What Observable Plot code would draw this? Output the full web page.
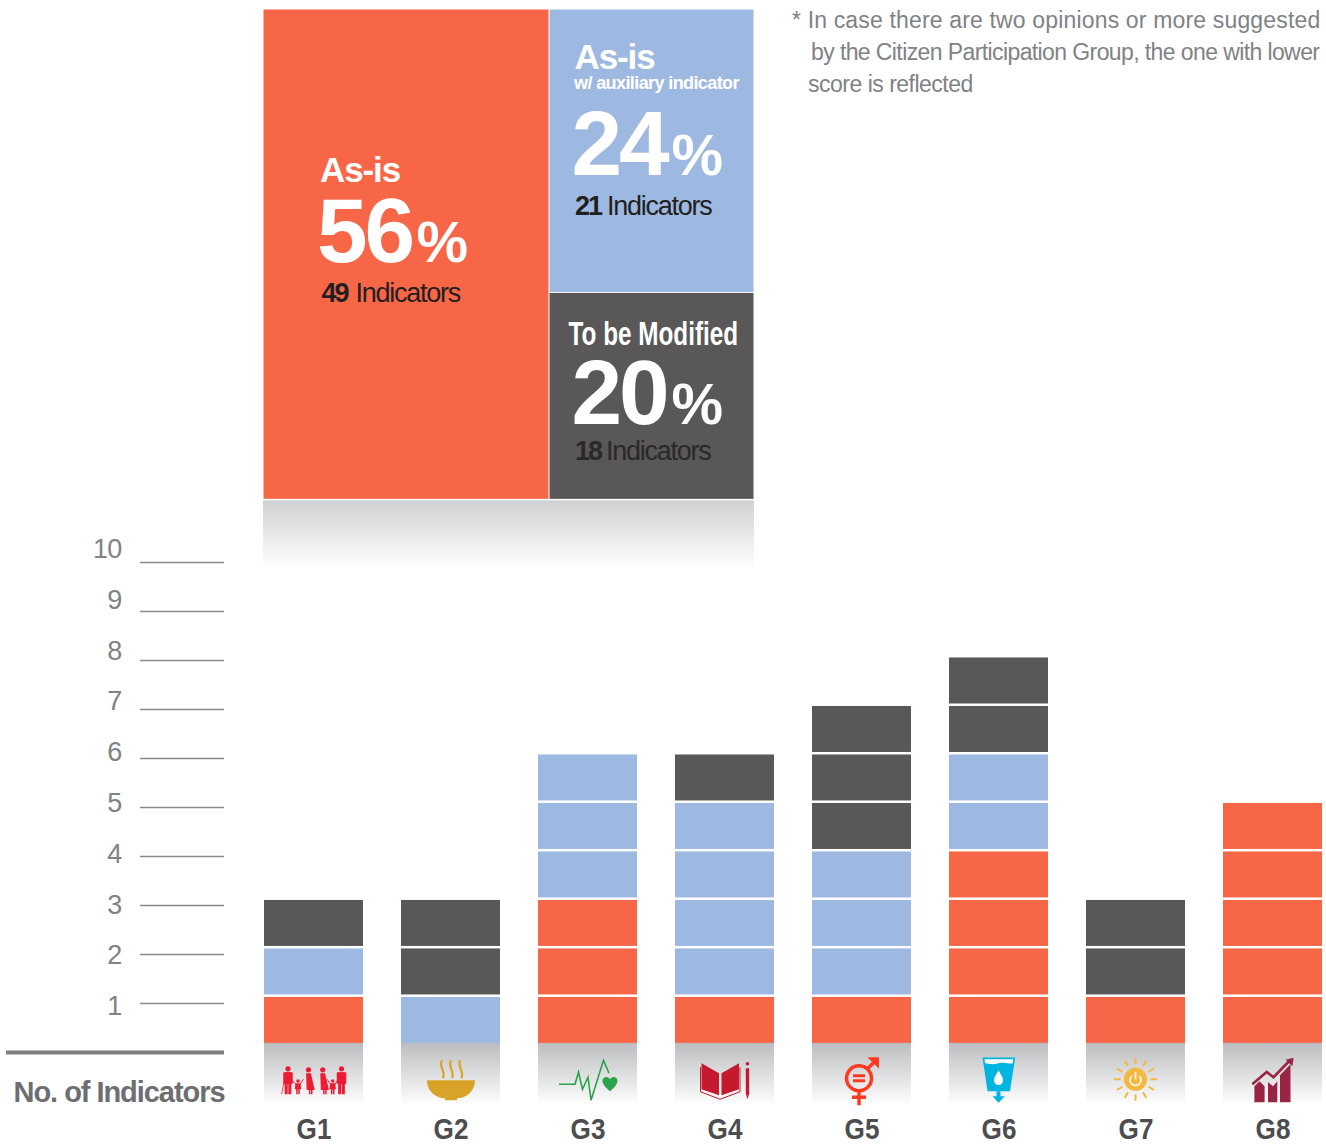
<!DOCTYPE html>
<html><head><meta charset="utf-8">
<style>
html,body{margin:0;padding:0;background:#fff}
#page{position:relative;width:1326px;height:1144px;overflow:hidden;font-family:"Liberation Sans",Arial,sans-serif}
#page svg{position:absolute;left:0;top:0;background:transparent;overflow:visible}
.note{position:absolute;white-space:pre;font-size:23px;color:#808285;line-height:28px}
.ls-name{letter-spacing:-1.1px}
.ls-sub{letter-spacing:-.6px}
.ls-pct{letter-spacing:-3px}
.ls-num{letter-spacing:-2px}
.ls-ind{letter-spacing:-1.25px}
.ls-tick text,.ls-tick{letter-spacing:-.8px}
.ls-axis{letter-spacing:-1.05px}
</style>
<script src="https://cdn.jsdelivr.net/npm/d3@7"></script>
<script src="https://cdn.jsdelivr.net/npm/@observablehq/plot@0.6"></script>
</head><body><div id="page"></div>
<script>
// ---- data ----
const goals = ["G1","G2","G3","G4","G5","G6","G7","G8"];
const asIs  = [1,0,3,1,1,4,1,5];
const aux   = [1,1,3,4,3,2,0,0];
const mod   = [1,2,0,1,3,2,2,0];
const statuses = ["As-is","As-is w/ auxiliary indicator","To be Modified"];
const statusColors = ["#f76647","#9eb9e1","#595758"];
const tileNames = ["As-is","As-is","To be Modified"];
const tilePercents = [56,24,20];
const tileCounts = [49,21,18];
const tileColumnShare = 58.25;   // share of treemap width
const tileRowShare = 57.8;       // share of treemap height of the right column
const axisTicks = [1,2,3,4,5,6,7,8,9,10];
const noteLines = ["* In case there are two opinions or more suggested","by the Citizen Participation Group, the one with lower","score is reflected"];

// ---- helpers ----
const FONT = '"Liberation Sans",Arial,sans-serif';
const page = document.getElementById("page");
const gradient = (id, from) => () => {
  const d = d3.create("svg:defs");
  const g = d.append("linearGradient").attr("id", id).attr("x1",0).attr("y1",0).attr("x2",0).attr("y2",1);
  g.append("stop").attr("offset","0%").attr("stop-color",from);
  g.append("stop").attr("offset","100%").attr("stop-color","#fff");
  return d.node();
};
// the reference's condensed bold lettering: squeeze text horizontally about its anchor
const condense = (svg, cls, k) => d3.select(svg).selectAll(`.${cls} text`).each(function() {
  const t = this.getAttribute("transform") || "";
  this.setAttribute("transform", `${t} scale(${k} 1)`);
});

// ---- icons (drawn in an 80×50 box centred on each band) ----
const wrap = s => "data:image/svg+xml," + encodeURIComponent(`<svg xmlns="http://www.w3.org/2000/svg" viewBox="0 0 80 50" width="80" height="50">${s}</svg>`);
const man = (c,t,b,w) => `<circle cx="${c}" cy="${t+2.6}" r="2.6"/><rect x="${c-w/2}" y="${t+6}" width="${w}" height="${(b-t)*.42}" rx="1"/><rect x="${c-w/2+1.4}" y="${t+6}" width="${(w-3.4)/2}" height="${b-t-6}"/><rect x="${c+.3}" y="${t+6}" width="${(w-3.4)/2}" height="${b-t-6}"/>`;
const kid = (c,t,b) => `<circle cx="${c}" cy="${t+1.8}" r="1.8"/><path d="M${c-2.6} ${t+4}h5.200l.6 ${(b-t-4)*.55}h-1.400v${(b-t-4)*.45}h-1.500v${-(b-t-4)*.4}h-.6v${(b-t-4)*.4}h-1.500v${-(b-t-4)*.45}h-1.400z"/>`;
const wom = (c,t,b,w) => `<circle cx="${c}" cy="${t+2.6}" r="2.6"/><path d="M${c-2.4} ${t+6}h4.800l${w/2-2.4} ${(b-t)*.62}h-${w/2-4}v${b-t-6-(b-t)*.62}h-1.500v${-(b-t-6-(b-t)*.62)}h-.6v${b-t-6-(b-t)*.62}h-1.500v${-(b-t-6-(b-t)*.62)}h-${w/2-4}z"/>`;
const ray = a => { const r=a*Math.PI/180; return `<line x1="${39.5+15*Math.cos(r)}" y1="${23+15*Math.sin(r)}" x2="${39.5+21.5*Math.cos(r)}" y2="${23+21.5*Math.sin(r)}"/>`; };
const icons = [
 `<g fill="#ed1b34">${man(14,10,38,9.5)}${kid(24,23,38)}${wom(34.5,11,38,12.5)}${wom(48.7,11,38,12.5)}${kid(58.7,23,38)}${man(67.5,10,38,9.5)}<path fill="none" stroke="#ed1b34" stroke-width="1" d="M18 24L22 28M26 28L29.500 23M53 23L56.500 28M61 28L63.500 24"/><path fill="none" stroke="#ed1b34" stroke-width=".8" d="M10 26L7.500 38"/></g>`,
 `<path fill="#d9a327" d="M16 24H64C64 36 54 42 46 42V44H34V42C26 42 16 36 16 24Z"/><g fill="none" stroke="#d9a327" stroke-width="2.2"><path d="M31 4C27 10 35 14 32 22"/><path d="M40 4C36 10 44 14 41 22"/><path d="M49.500 4C45.500 10 53.500 14 50.500 22"/></g>`,
 `<path fill="none" stroke="#2aa34a" stroke-width="1.6" d="M11 28H27L30.500 16L34.500 33L40 21L43 44L55.500 4L61 17"/><path fill="#2aa34a" d="M62 35C56 30 54.500 27 54.500 24.500C54.500 21 59.500 19 62 23C64.500 19 69.500 21 69.500 24.500C69.500 27 68 30 62 35Z"/>`,
 `<g fill="#c5192d"><path d="M16.500 7L34 17V39L16.500 33Z"/><path d="M54 7L36.500 17V39L54 33Z"/><path fill="none" stroke="#c5192d" stroke-width="1" d="M15.500 11V35.500L35 43L55 35.500V11"/><circle cx="62.500" cy="7.500" r="1.800"/><path d="M60.800 12H64.200V37L62.500 43L60.800 37Z"/></g>`,
 `<g stroke="#ff3a21" fill="none"><circle cx="37" cy="22" r="12.500" stroke-width="3.500"/><path stroke-width="3.400" d="M37 35V49M30 41H44"/><path stroke-width="3" d="M31 19.500H43M31 24.500H43"/><path stroke-width="3.600" d="M46 12L54 4"/></g><path fill="#ff3a21" d="M45.400 1H57V12.500Z"/>`,
 `<path fill="#00b5e2" d="M23.500 1.300H56.200L51 35H28.500Z"/><path fill="#fff" d="M25.500 3H54.200L53.700 7C48 8 44 5.500 39.500 7C35 8.500 30 8 26 6.800Z"/><path fill="#fff" d="M39.500 14C37.500 18 35 20.500 35 24C35 26.800 37 28.800 39.500 28.800C42 28.800 44 26.800 44 24C44 20.500 41.500 18 39.500 14Z"/><path fill="#00b5e2" d="M37.500 35H41.500V40H45.800L39.500 46.500L33.500 40H37.500Z"/>`,
 `<g stroke="#f5b83d" stroke-width="2">${[0,30,60,90,120,150,180,210,240,270,300,330].map(ray).join("")}</g><circle cx="39.500" cy="23" r="11.500" fill="#f5b83d"/><path fill="none" stroke="#fff" stroke-width="1.600" d="M36 19.500A5.500 5.500 0 1 0 43 19.500M39.500 15.500V23"/>`,
 `<g fill="#9a2444"><path d="M21.400 46V30L26.500 25L31.600 30V46Z"/><path d="M35 46V25.700L40 30L44.300 25V46Z"/><path d="M47 46V19L57.500 8V46Z"/></g><path fill="none" stroke="#9a2444" stroke-width="2.600" d="M19.300 28L33.700 15.700L40.500 21L56 5"/><path fill="#9a2444" d="M60.500 1.500L59.500 10L52.500 3.500Z"/>`
].map(wrap);

// ---- stacked bars ----
const units = goals.flatMap((g,i) => [
  ...d3.range(asIs[i]).map(() => ({goal:g, status:statuses[0]})),
  ...d3.range(aux[i]).map(() => ({goal:g, status:statuses[1]})),
  ...d3.range(mod[i]).map(() => ({goal:g, status:statuses[2]}))
]);
const bars = Plot.plot({
  width:1326, height:1144, marginLeft:264, marginRight:4, marginTop:558, marginBottom:39,
  x:{type:"band", domain:goals, paddingInner:38/137, paddingOuter:0, round:false, label:null},
  y:{domain:[-1.28,10], axis:null},
  color:{domain:statuses, range:statusColors},
  marks:[
    gradient("shade-bars","#bcbdc0"),
    Plot.barY(goals,{x:d=>d, y1:()=>0, y2:()=>-1.28, fill:"url(#shade-bars)"}),
    Plot.barY(units, Plot.stackY({x:"goal", y:()=>1, fill:"status", insetTop:2.5, order:null})),
    Plot.image(goals,{x:d=>d, y:()=>-0.78, width:80, height:50, src:(d,i)=>icons[i]}),
    Plot.axisX({domain:goals, anchor:"bottom", tickSize:0, tickPadding:12, label:null, fontSize:30, fontWeight:"bold", fontFamily:FONT, fill:"#4d4d4f", lineAnchor:"top", className:"cond-goal"})
  ]
});
condense(bars, "cond-goal", 0.87);
page.append(bars);

// ---- left axis: rules ----
const rules = Plot.plot({
  width:1326, height:1144, marginLeft:6, marginRight:1102, marginTop:562, marginBottom:92,
  x:{axis:null}, y:{domain:[0,10], axis:null},
  marks:[
    Plot.ruleY(axisTicks,{y:d=>d, insetLeft:134, stroke:"#8a8a8c", strokeWidth:1.3}),
    Plot.ruleY([0],{y:d=>d, stroke:"#808082", strokeWidth:4}),
    Plot.text(["No. of Indicators"],{text:d=>d, frameAnchor:"bottom-right", lineAnchor:"bottom", dy:49, fontSize:29, fontWeight:"bold", fontFamily:FONT, fill:"#6d6e71", className:"ls-axis"})
  ]
});
page.append(rules);

// ---- left axis: numbers ----
const numbers = Plot.plot({
  width:1326, height:1144, marginLeft:121, marginRight:1, marginTop:549, marginBottom:138,
  y:{domain:[1,10], axis:null},
  marks:[
    Plot.axisY(axisTicks,{anchor:"left", tickSize:0, tickPadding:0, tickFormat:d=>String(d), label:null, fontSize:27, fontFamily:FONT, fill:"#808285", className:"ls-tick"})
  ]
});
page.append(numbers);

// ---- treemap ----
const tiles = [
  {x1:0, x2:tileColumnShare, y1:0, y2:100},
  {x1:tileColumnShare, x2:100, y1:0, y2:tileRowShare},
  {x1:tileColumnShare, x2:100, y1:tileRowShare, y2:100}
].map((t,i) => ({...t, name:tileNames[i], pct:tilePercents[i], count:tileCounts[i], color:statusColors[i]}));
const label = (t, text, dx, dy, fontSize, fontWeight, fill, cls) =>
  Plot.text([t],{x:d=>d.x1, y:d=>d.y1, text, dx, dy, fontSize, fontWeight, fill, textAnchor:"start", lineAnchor:"bottom", fontFamily:FONT, className:cls});
const DARK = "#231f20";
const [t0,t1,t2] = tiles;
const treemap = Plot.plot({
  width:1326, height:1144, marginLeft:263, marginRight:572, marginTop:9, marginBottom:576,
  x:{domain:[0,100], axis:null}, y:{domain:[0,114], reverse:true, axis:null},
  marks:[
    gradient("shade-tree","#d0d1d3"),
    Plot.rect([0],{x1:()=>0, x2:()=>100, y1:()=>100.2, y2:()=>114, fill:"url(#shade-tree)"}),
    Plot.rect(tiles,{x1:"x1", x2:"x2", y1:"y1", y2:"y2", fill:"color", inset:0.5}),
    // As-is
    label(t0, d=>d.name, 56.5, 172, 35, "bold", "#fff", "ls-name"),
    label(t0, d=>d.pct, 53.5, 252, 91, "bold", "#fff", "ls-pct"),
    label(t0, ()=>"%", 153, 252, 58, "bold", "#fff", null),
    label(t0, d=>d.count, 58, 292, 27, "bold", DARK, "ls-num"),
    label(t0, ()=>"Indicators", 92, 292, 27, "normal", DARK, "ls-ind"),
    // As-is w/ auxiliary
    label(t1, d=>d.name, 25, 59, 35, "bold", "#fff", "ls-name"),
    label(t1, ()=>"w/ auxiliary indicator", 24.5, 79, 18, "bold", "#fff", "ls-sub"),
    label(t1, d=>d.pct, 22, 165, 91, "bold", "#fff", "ls-pct"),
    label(t1, ()=>"%", 122, 165, 58, "bold", "#fff", null),
    label(t1, d=>d.count, 25.5, 205, 27, "bold", DARK, "ls-num"),
    label(t1, ()=>"Indicators", 57.5, 205, 27, "normal", DARK, "ls-ind"),
    // To be modified
    label(t2, d=>d.name, 19, 52, 33, "bold", "#fff", "cond-mod"),
    label(t2, d=>d.pct, 22, 131, 91, "bold", "#fff", "ls-pct"),
    label(t2, ()=>"%", 122, 131, 58, "bold", "#fff", null),
    label(t2, d=>d.count, 25.5, 167, 27, "bold", "#2b2829", "ls-num"),
    label(t2, ()=>"Indicators", 56.5, 167, 27, "normal", "#2b2829", "ls-ind")
  ]
});
condense(treemap, "cond-mod", 0.737);
page.append(treemap);

// ---- footnote ----
const noteLefts = [792,811,808], noteTops = [6,38,70], noteSpacing = [.16,-.6,-.5];
noteLines.forEach((s,i) => {
  const el = document.createElement("div");
  el.className = "note";
  el.textContent = s;
  el.style.left = noteLefts[i]+"px";
  el.style.top = noteTops[i]+"px";
  el.style.letterSpacing = noteSpacing[i]+"px";
  page.append(el);
});
</script></body></html>
